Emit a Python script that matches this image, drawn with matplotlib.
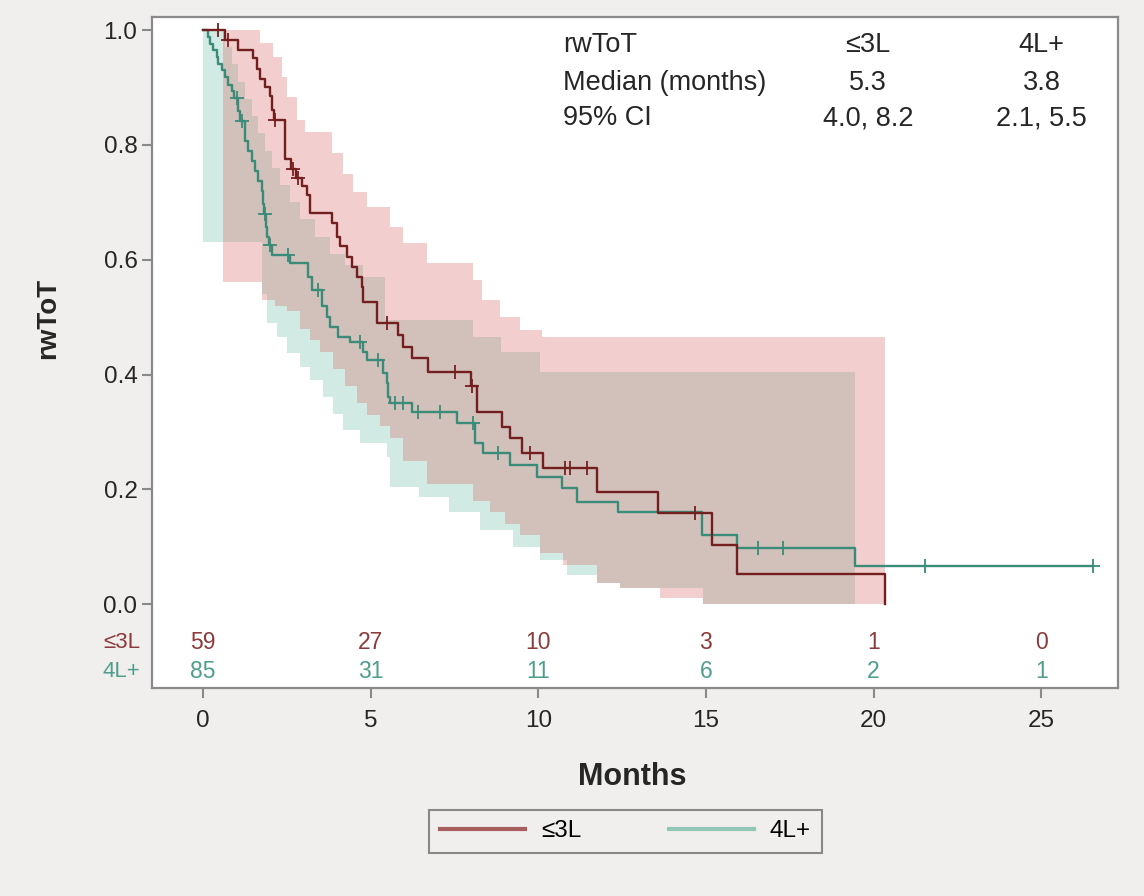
import numpy as np
import matplotlib.pyplot as plt
from matplotlib.lines import Line2D

plt.rcParams['font.family'] = ['Liberation Sans', 'DejaVu Sans']

# KM step curves (months, survival)
red_t = [0.0, 0.66, 1.04, 1.49, 1.61, 1.70, 1.85, 2.00, 2.06, 2.12, 2.45, 2.62, 2.78,
         2.95, 3.10, 3.19, 3.85, 4.00, 4.09, 4.30, 4.44, 4.59, 4.74, 4.77, 5.19, 5.82,
         5.96, 6.23, 6.71, 7.98, 8.17, 8.92, 9.16, 9.51, 10.14, 11.75, 13.57, 15.18,
         15.93, 20.34]
red_s = [1.0, 0.983, 0.966, 0.952, 0.932, 0.915, 0.90, 0.885, 0.86, 0.843, 0.775, 0.758,
         0.742, 0.728, 0.712, 0.681, 0.664, 0.64, 0.623, 0.605, 0.588, 0.57, 0.553, 0.526,
         0.49, 0.469, 0.448, 0.428, 0.405, 0.38, 0.334, 0.309, 0.289, 0.263, 0.237, 0.195,
         0.158, 0.103, 0.052, 0.0]
red_cens = [0.45, 0.75, 2.15, 2.68, 2.82, 5.49, 7.52, 8.02, 9.75, 10.8, 10.95, 11.45, 14.67]

green_t = [0.0, 0.15, 0.21, 0.30, 0.42, 0.45, 0.57, 0.66, 0.75, 0.86, 0.92, 1.04, 1.10,
           1.25, 1.34, 1.46, 1.55, 1.64, 1.76, 1.79, 1.82, 1.88, 1.91, 1.97, 2.06, 2.59,
           3.13, 3.25, 3.55, 3.70, 3.79, 4.03, 4.38, 4.77, 4.89, 5.37, 5.49, 5.52, 5.58,
           6.23, 7.58, 8.11, 8.35, 9.16, 9.96, 10.71, 11.15, 12.38, 14.88, 15.93, 19.45]
green_s = [1.0, 0.988, 0.976, 0.965, 0.953, 0.94, 0.93, 0.918, 0.905, 0.894, 0.882, 0.859,
           0.842, 0.807, 0.79, 0.772, 0.755, 0.737, 0.72, 0.697, 0.68, 0.657, 0.64, 0.625,
           0.608, 0.594, 0.57, 0.547, 0.52, 0.5, 0.483, 0.465, 0.456, 0.439, 0.425, 0.402,
           0.385, 0.36, 0.35, 0.334, 0.315, 0.28, 0.263, 0.242, 0.222, 0.202, 0.178, 0.16,
           0.12, 0.098, 0.066]
green_cens = [1.01, 1.16, 1.85, 2.0, 2.53, 3.43, 4.68, 5.22, 5.73, 5.96, 6.41, 7.07, 8.05,
              8.8, 16.55, 17.3, 21.53, 26.54]
green_end = 26.54

# 95% confidence bands (step edges)
red_up_t = [0.6, 1.70, 2.09, 2.36, 2.51, 2.80, 3.04, 3.85, 4.18, 4.47, 4.89, 5.58, 5.96,
            6.68, 8.05, 8.32, 8.86, 9.45, 10.11]
red_up = [1.0, 0.977, 0.953, 0.918, 0.883, 0.843, 0.822, 0.786, 0.75, 0.718, 0.692, 0.657,
          0.629, 0.595, 0.565, 0.53, 0.5, 0.477, 0.465]
red_lo_t = [0.6, 1.76, 2.15, 2.51, 2.89, 3.19, 3.49, 3.88, 4.24, 4.59, 4.89, 5.28, 5.58,
            5.96, 6.68, 8.05, 8.56, 9.01, 9.46, 10.05, 10.74, 11.75, 12.44, 13.63, 14.91]
red_lo = [0.561, 0.53, 0.52, 0.51, 0.48, 0.46, 0.44, 0.41, 0.38, 0.35, 0.33, 0.31, 0.29,
          0.25, 0.21, 0.18, 0.16, 0.14, 0.12, 0.09, 0.068, 0.037, 0.028, 0.01, 0.0]
red_band_end = 20.34

green_up_t = [0.0, 0.66, 0.86, 1.04, 1.25, 1.46, 1.64, 1.85, 2.06, 2.30, 2.59, 2.89, 3.34,
              3.79, 4.24, 4.77, 5.43, 8.05, 8.9, 10.05]
green_up = [1.0, 0.97, 0.94, 0.91, 0.88, 0.85, 0.82, 0.79, 0.76, 0.73, 0.70, 0.67, 0.64,
            0.61, 0.59, 0.57, 0.495, 0.465, 0.44, 0.405]
green_lo_t = [0.0, 1.76, 1.91, 2.21, 2.51, 2.89, 3.19, 3.58, 3.88, 4.18, 4.68, 5.49, 5.58,
              6.44, 7.34, 8.26, 9.25, 10.05, 10.86, 11.75, 12.44, 14.91]
green_lo = [0.63, 0.54, 0.49, 0.465, 0.437, 0.413, 0.39, 0.36, 0.332, 0.303, 0.28, 0.256,
            0.204, 0.186, 0.16, 0.129, 0.1, 0.077, 0.05, 0.037, 0.028, 0.0]
green_band_end = 19.45

# numbers at risk
risk_times = [0, 5, 10, 15, 20, 25]
risk_red = [59, 27, 10, 3, 1, 0]
risk_green = [85, 31, 11, 6, 2, 1]

groups = ['≤3L', '4L+']
medians = ['5.3', '3.8']
cis = ['4.0, 8.2', '2.1, 5.5']

red_c = '#741f1f'
green_c = '#3a8b78'
bg = '#f0efed'
txt = '#262626'


def step_at(times, vals, x):
    idx = np.searchsorted(times, x, side='right') - 1
    return np.asarray(vals)[np.clip(idx, 0, None)]


fig = plt.figure(figsize=(11.44, 8.96), dpi=100, facecolor=bg)
ax = fig.add_axes([0.1329, 0.2321, 0.8444, 0.7489])

# bands: green first, red over it
for ut, uv, lt, lv, end, col in [(green_up_t, green_up, green_lo_t, green_lo, green_band_end, '#69bca5'),
                                 (red_up_t, red_up, red_lo_t, red_lo, red_band_end, '#d75f5f')]:
    grid = np.union1d(np.union1d(ut, lt), [end])
    ax.fill_between(grid, step_at(lt, lv, grid), step_at(ut, uv, grid),
                    step='post', color=col, alpha=0.3, lw=0)

ax.step(green_t + [green_end], green_s + [green_s[-1]], where='post', color=green_c, lw=1.7)
ax.step(red_t, red_s, where='post', color=red_c, lw=1.7)
ax.plot(green_cens, step_at(green_t, green_s, green_cens), '+', color=green_c, ms=10, mew=1.3)
ax.plot(red_cens, step_at(red_t, red_s, red_cens), '+', color=red_c, ms=10, mew=1.3)

ax.set_xlim(-1.52, 27.29)
ax.set_ylim(-0.146, 1.0226)
ax.set_xticks([0, 5, 10, 15, 20, 25])
ax.set_yticks([0, 0.2, 0.4, 0.6, 0.8, 1.0])
ax.set_yticklabels([f'{v:.1f}' for v in [0, 0.2, 0.4, 0.6, 0.8, 1.0]])
ax.tick_params(labelsize=17.5, colors='#8a8a8a', labelcolor=txt, length=7, width=1.5)
ax.tick_params(axis='x', pad=9)
for sp in ax.spines.values():
    sp.set_color('#8a8a8a')
    sp.set_linewidth(1.6)

ax.set_xlabel('Months', fontsize=22, fontweight='bold', color=txt)
ax.xaxis.set_label_coords(0.497, -0.11)
ax.set_ylabel('rwToT', fontsize=20, fontweight='bold', color=txt)
ax.yaxis.set_label_coords(-0.094, 0.551)

# numbers at risk
for t, a, b in zip(risk_times, risk_red, risk_green):
    ax.text(t, -0.066, str(a), color='#8c3a3a', fontsize=16.5, ha='center', va='center')
    ax.text(t, -0.118, str(b), color='#4f9e8c', fontsize=16.5, ha='center', va='center')
ax.text(-0.012, -0.066, groups[0], color='#8c3a3a', fontsize=16, ha='right', va='center',
        transform=ax.get_yaxis_transform())
ax.text(-0.012, -0.118, groups[1], color='#4f9e8c', fontsize=16, ha='right', va='center',
        transform=ax.get_yaxis_transform())

# summary table
rows = [('rwToT', groups[0], groups[1]),
        ('Median (months)', medians[0], medians[1]),
        ('95% CI', cis[0], cis[1])]
for (lab, c1, c2), y in zip(rows, [0.958, 0.902, 0.849]):
    ax.text(0.4255, y, lab, transform=ax.transAxes, fontsize=19.5, color=txt, va='center')
    ax.text(0.741, y, c1, transform=ax.transAxes, fontsize=19.5, color=txt, va='center', ha='center')
    ax.text(0.921, y, c2, transform=ax.transAxes, fontsize=19.5, color=txt, va='center', ha='center')

handles = [Line2D([], [], color='#a85e5e', lw=3), Line2D([], [], color='#92c6b6', lw=3)]
leg = fig.legend(handles, groups, loc='center', bbox_to_anchor=(0.5468, 0.072), ncol=2,
                 fancybox=False, edgecolor='#888888', facecolor=bg, framealpha=1,
                 handlelength=3.5, handletextpad=0.65, columnspacing=3.6, fontsize=17.5,
                 borderpad=0.45)
leg.get_frame().set_linewidth(1.5)

fig.savefig('out.png', dpi=100, facecolor=bg)
